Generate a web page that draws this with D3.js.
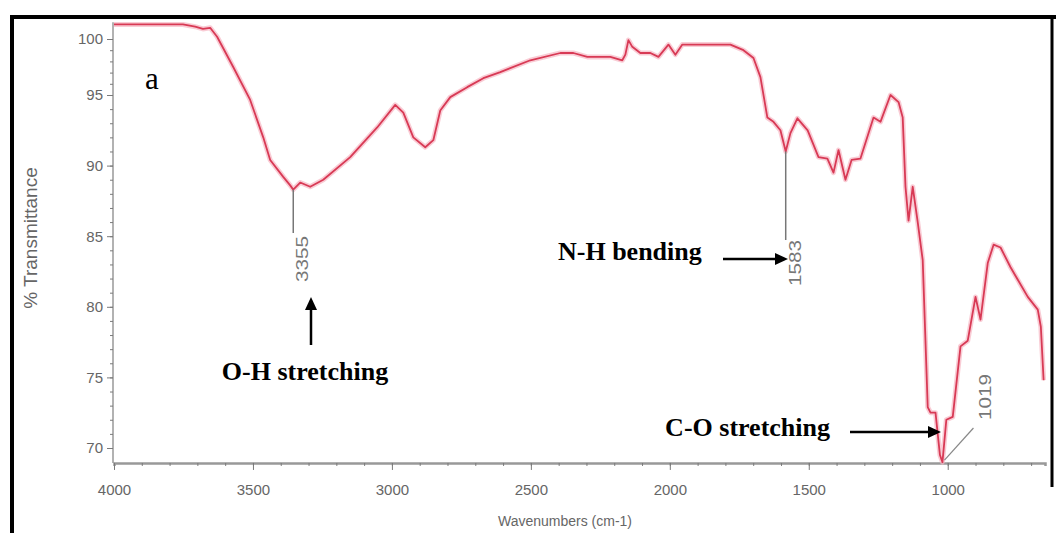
<!DOCTYPE html>
<html><head><meta charset="utf-8">
<script src="https://cdn.jsdelivr.net/npm/d3@7"></script>
<style>body{margin:0;background:#fff} svg{display:block}</style>
</head><body><svg id="c" width="1056" height="533"></svg>
<script>
// ---- data ----
const wavenumbers = [4000,3752,3708,3680,3654,3629,3571,3510,3463,3438,3391,3366,3355,3330,3294,3247,3150,3053,2988,2959,2923,2880,2851,2826,2790,2729,2671,2610,2502,2394,2347,2297,2214,2171,2160,2149,2135,2106,2070,2041,2005,1980,1955,1890,1782,1735,1699,1674,1649,1627,1602,1583,1566,1541,1504,1465,1433,1411,1393,1368,1346,1314,1267,1242,1206,1177,1162,1152,1141,1126,1108,1090,1072,1062,1044,1028,1019,1005,982,954,928,900,882,856,835,810,774,712,676,665,655];
const transmittance = [101.3,101.3,101.1,100.9,101.0,100.2,97.5,94.65,92.0,90.4,89.2,88.6,88.3,88.8,88.5,89.0,90.6,92.7,94.3,93.75,92.0,91.3,91.8,93.9,94.85,95.7,96.5,97.05,98.1,98.75,98.75,98.4,98.4,98.1,98.6,99.9,99.3,98.75,98.75,98.4,99.5,98.6,99.5,99.5,99.5,99.0,98.3,96.6,93.4,93.1,92.5,91.0,92.3,93.35,92.5,90.6,90.5,89.5,91.1,89.0,90.4,90.5,93.4,93.1,95.0,94.5,93.4,88.5,86.1,88.5,86.0,83.3,72.9,72.5,72.5,69.5,69.0,72.0,72.2,77.2,77.6,80.7,79.1,83.1,84.4,84.2,82.8,80.7,79.8,78.6,74.8];
const xTickValues = [4000,3500,3000,2500,2000,1500,1000];
const yTickValues = [70,75,80,85,90,95,100];
const peakWavenumbers = [3355,1583,1019];
const peakTexts = ["3355","1583","1019"];
const bandTexts = ["O-H stretching","N-H bending","C-O stretching"];
const panelLabel = "a";
const xTitle = "Wavenumbers (cm-1)";
const yTitle = "% Transmittance";

// ---- scales ----
const svg = d3.select("#c");
const x = d3.scaleLinear().domain([4000, 650]).range([114, 1045]);
const y = d3.scaleLinear().domain([70, 95, 100]).range([448, 95, 39]);
const yBottom = 68.94, yTop = 101.5;

// outer frame
svg.append("line").attr("x1",10).attr("x2",1056).attr("y1",17).attr("y2",17).attr("stroke","#000").attr("stroke-width",4);
svg.append("line").attr("x1",12).attr("x2",12).attr("y1",15).attr("y2",533).attr("stroke","#000").attr("stroke-width",4);
svg.append("line").attr("x1",1052).attr("x2",1052).attr("y1",15).attr("y2",487).attr("stroke","#000").attr("stroke-width",3);

const grey = "#7a7a7a";
// x axis
const gx = svg.append("g").attr("transform",`translate(0,${y(yBottom)})`);
gx.call(d3.axisBottom(x).tickValues(d3.range(4000, 649, -100)).tickSize(3).tickFormat(""));
gx.call(g=>g.select(".domain").attr("stroke","#999").attr("stroke-width",2.5));
gx.selectAll(".tick line").attr("stroke",grey);
const gx2 = svg.append("g").attr("transform",`translate(0,${y(yBottom)})`);
gx2.call(d3.axisBottom(x).tickValues(xTickValues).tickSize(7).tickPadding(14).tickFormat(d3.format("d")));
gx2.select(".domain").remove();
gx2.selectAll(".tick line").attr("stroke",grey);
gx2.selectAll(".tick text").attr("fill","#666").attr("font-family","Liberation Sans, Arial").attr("font-size",15);

// y axis
const gy = svg.append("g").attr("transform",`translate(${x(4000)-1},0)`);
gy.call(d3.axisLeft(y).tickValues(d3.range(70, 101, 1)).tickSize(3).tickFormat(""));
gy.select(".domain").attr("d",`M0,${y(yTop)}V${y(yBottom)}`).attr("stroke","#999").attr("stroke-width",1.5);
gy.selectAll(".tick line").attr("stroke",grey);
const gy2 = svg.append("g").attr("transform",`translate(${x(4000)-1},0)`);
gy2.call(d3.axisLeft(y).tickValues(yTickValues).tickSize(6).tickPadding(4).tickFormat(d3.format("d")));
gy2.select(".domain").remove();
gy2.selectAll(".tick line").attr("stroke",grey);
gy2.selectAll(".tick text").attr("fill","#666").attr("font-family","Liberation Sans, Arial").attr("font-size",15);

// axis titles
svg.append("text").attr("x",565).attr("y",526).attr("text-anchor","middle").attr("fill","#666")
  .attr("font-family","Liberation Sans, Arial").attr("font-size",14).text(xTitle);
svg.append("text").attr("transform","translate(37,238) rotate(-90)").attr("text-anchor","middle").attr("fill","#666")
  .attr("font-family","Liberation Sans, Arial").attr("font-size",19).text(yTitle);

// spectrum
const pts = wavenumbers.map((w,i)=>[w, transmittance[i]]);
const line = d3.line().x(d=>x(d[0])).y(d=>y(d[1]));
svg.append("path").datum(pts).attr("d",line).attr("fill","none").attr("stroke","#f6b7c3").attr("stroke-width",5).attr("stroke-linejoin","round").attr("opacity",0.7);
svg.append("path").datum(pts).attr("d",line).attr("fill","none").attr("stroke","#d83a55").attr("stroke-width",1.8).attr("stroke-linejoin","round");

// peak markers
const pk = (i)=>[x(peakWavenumbers[i]), y(transmittance[wavenumbers.indexOf(peakWavenumbers[i])])];
function peakText(px, py, t){
  svg.append("text").attr("transform",`translate(${px},${py}) rotate(-90)`).attr("text-anchor","end")
    .attr("dy","0.35em").attr("fill","#777").attr("font-family","Liberation Sans, Arial").attr("font-size",16)
    .attr("textLength",46).attr("lengthAdjust","spacingAndGlyphs").text(t);
}
let [p0x,p0y] = pk(0);
svg.append("line").attr("x1",p0x).attr("x2",p0x).attr("y1",p0y).attr("y2",233).attr("stroke","#777").attr("stroke-width",1.5);
peakText(p0x+9, 236, peakTexts[0]);
let [p1x,p1y] = pk(1);
svg.append("line").attr("x1",p1x).attr("x2",p1x).attr("y1",p1y).attr("y2",240).attr("stroke","#777").attr("stroke-width",1.5);
peakText(p1x+10, 240, peakTexts[1]);
let [p2x,p2y] = pk(2);
svg.append("line").attr("x1",p2x+2).attr("x2",p2x+31).attr("y1",p2y-2).attr("y2",428).attr("stroke","#888").attr("stroke-width",1.2);
peakText(p2x+43, 374, peakTexts[2]);

// band annotations
const serif = "Liberation Serif, Times New Roman, serif";
svg.append("text").attr("x",145).attr("y",89).attr("font-family",serif).attr("font-size",31).attr("fill","#000").text(panelLabel);
svg.append("text").attr("x",305).attr("y",380).attr("text-anchor","middle").attr("font-family",serif).attr("font-weight","bold").attr("font-size",26).text(bandTexts[0]);
svg.append("text").attr("x",558).attr("y",260).attr("font-family",serif).attr("font-weight","bold").attr("font-size",26).text(bandTexts[1]);
svg.append("text").attr("x",830).attr("y",436).attr("text-anchor","end").attr("font-family",serif).attr("font-weight","bold").attr("font-size",26).text(bandTexts[2]);

function arrow(x1,y1,x2,y2){
  const a = Math.atan2(y2-y1,x2-x1), L=13, W=6;
  const bx = x2 - L*Math.cos(a), by = y2 - L*Math.sin(a);
  svg.append("line").attr("x1",x1).attr("y1",y1).attr("x2",bx).attr("y2",by).attr("stroke","#000").attr("stroke-width",2.5);
  svg.append("path").attr("d",`M${x2},${y2}L${bx - W*Math.sin(a)},${by + W*Math.cos(a)}L${bx + W*Math.sin(a)},${by - W*Math.cos(a)}Z`).attr("fill","#000");
}
arrow(311,345,311,297);
arrow(723,259,788,259);
arrow(850,432,941,432);
</script></body></html>
